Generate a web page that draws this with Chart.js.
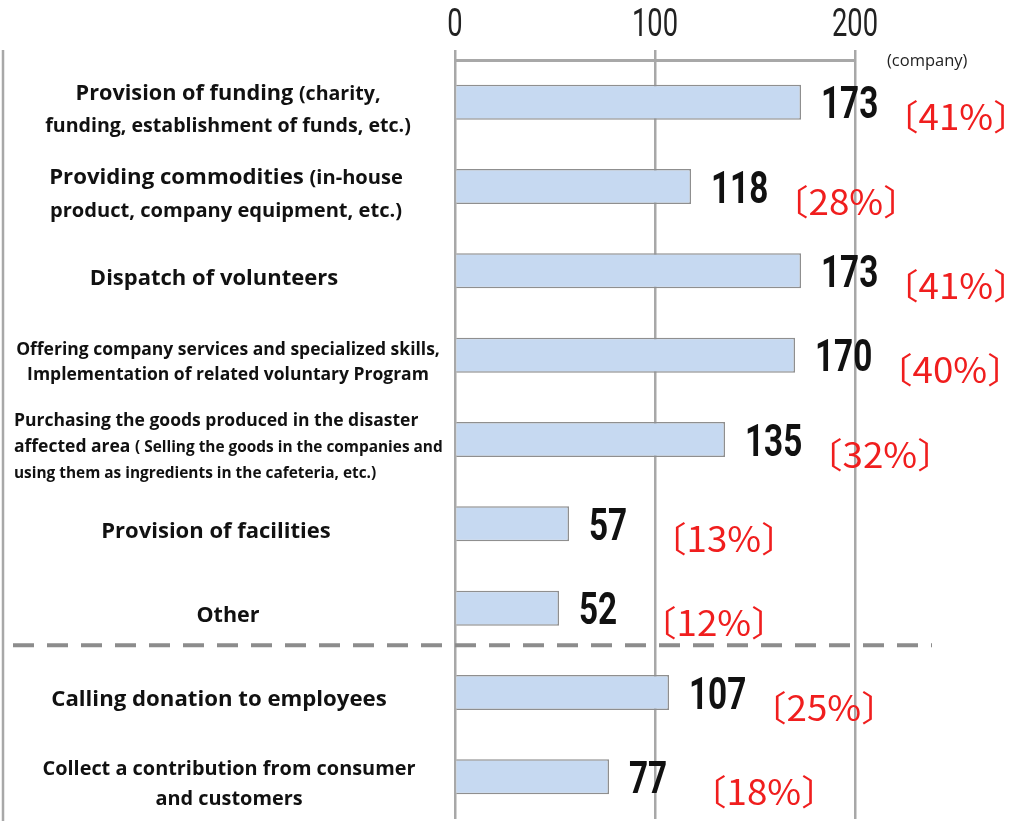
<!DOCTYPE html>
<html>
<head>
<meta charset="utf-8">
<script src="https://cdn.jsdelivr.net/npm/chart.js@4.4.1/dist/chart.umd.min.js"></script>
<style>
  html, body { margin: 0; padding: 0; background: #fff; }
  #wrap { width: 1015px; height: 821px; }
</style>
</head>
<body>
<div id="wrap"><canvas id="chart" width="1015" height="821"></canvas></div>
<script>
// categories, top to bottom ("\n" = line break, text in parentheses is set smaller)
const categories = [
    'Provision of funding (charity,\nfunding, establishment of funds, etc.)',
    'Providing commodities (in-house\nproduct, company equipment, etc.)',
    'Dispatch of volunteers',
    'Offering company services and specialized skills,\nImplementation of related voluntary Program',
    'Purchasing the goods produced in the disaster\naffected area ( Selling the goods in the companies and\nusing them as ingredients in the cafeteria, etc.)',
    'Provision of facilities',
    'Other',
    'Calling donation to employees',
    'Collect a contribution from consumer\nand customers'
];

// number of companies
const companies = [173, 118, 173, 170, 135, 57, 52, 107, 77];

// share of companies, in percent
const shares = [41, 28, 41, 40, 32, 13, 12, 25, 18];

const xTicks = [0, 100, 200];
const unitLabel = '(company)';

// the dashed separator goes after this category
const separatorAfter = 'Other';

// font sizes and alignment of the category labels (main text / text in parentheses)
const labelStyles = [
    {size: 21.7, small: 19.6, align: 'center', cx: 228},
    {size: 22.2, small: 20.1, align: 'center', cx: 226},
    {size: 22, small: 20, align: 'center', cx: 214},
    {size: 17.5, small: 17.5, align: 'center', cx: 228},
    {size: 17.5, small: 15.4, align: 'left', cx: 14},
    {size: 22, small: 20, align: 'center', cx: 216},
    {size: 21.5, small: 20, align: 'center', cx: 228},
    {size: 22.2, small: 20, align: 'center', cx: 219},
    {size: 19.9, small: 19.9, align: 'center', cx: 229}
];

const GRID = '#a8a8a8';
const LABEL_FONT = '"Open Sans"';

// draw a text squeezed horizontally (the original uses a condensed face)
function drawCondensed(ctx, text, x, y, align, font, sx, color) {
    ctx.save();
    ctx.font = font;
    ctx.fillStyle = color;
    ctx.textAlign = 'left';
    ctx.textBaseline = 'alphabetic';
    const w = ctx.measureText(text).width * sx;
    let left = x;
    if (align === 'center') left = x - w / 2;
    else if (align === 'right') left = x - w;
    ctx.translate(left, y);
    ctx.scale(sx, 1);
    ctx.fillText(text, 0, 0);
    ctx.restore();
    return w;
}

// split a line in normal / parenthesised segments
function splitSegments(line, inParen) {
    const segs = [];
    let cur = '';
    let paren = inParen;
    for (const ch of line) {
        if (ch === '(' && !paren) {
            if (cur) segs.push({text: cur, small: false});
            cur = ch;
            paren = true;
        } else if (ch === ')' && paren) {
            cur += ch;
            segs.push({text: cur, small: true});
            cur = '';
            paren = false;
        } else {
            cur += ch;
        }
    }
    if (cur) segs.push({text: cur, small: paren});
    return {segs, inParen: paren};
}

function drawCategoryLabel(ctx, text, style, cy) {
    const lines = text.split('\n');
    const lh = style.size * 1.48;
    let inParen = false;
    lines.forEach((line, i) => {
        const res = splitSegments(line, inParen);
        inParen = res.inParen;
        const fonts = res.segs.map(s => `bold ${s.small ? style.small : style.size}px ${LABEL_FONT}`);
        let total = 0;
        const widths = res.segs.map((s, k) => {
            ctx.font = fonts[k];
            const w = ctx.measureText(s.text).width;
            total += w;
            return w;
        });
        let x = style.align === 'left' ? style.cx : style.cx - total / 2;
        const lineY = cy - (lines.length - 1) * lh / 2 + i * lh + style.size * 0.36;
        res.segs.forEach((s, k) => {
            ctx.font = fonts[k];
            ctx.fillText(s.text, x, lineY);
            x += widths[k];
        });
    });
}

const annotate = {
    id: 'annotate',
    afterDraw(chart) {
        const {ctx, chartArea} = chart;
        const xs = chart.scales.x;
        const ys = chart.scales.y;
        const meta = chart.getDatasetMeta(0);

        // tick labels of the top axis
        xs.ticks.forEach(t => {
            drawCondensed(ctx, String(t.value), xs.getPixelForValue(t.value), 36,
                'center', '400 39px Roboto', 0.7, '#222');
        });

        // unit
        ctx.save();
        ctx.font = `16.5px ${LABEL_FONT}`;
        ctx.fillStyle = '#222';
        ctx.textBaseline = 'middle';
        ctx.fillText(unitLabel, xs.right + 32, chartArea.top + 1);
        ctx.restore();

        // left frame line (edge of the neighbouring panel)
        ctx.save();
        ctx.strokeStyle = GRID;
        ctx.lineWidth = 2.5;
        ctx.beginPath();
        ctx.moveTo(3, chartArea.top - 10);
        ctx.lineTo(3, chart.height);
        ctx.stroke();
        ctx.restore();

        // category labels
        ctx.save();
        ctx.fillStyle = '#111';
        ctx.textBaseline = 'alphabetic';
        categories.forEach((c, i) => {
            drawCategoryLabel(ctx, c, labelStyles[i], ys.getPixelForValue(i) + 6);
        });
        ctx.restore();

        // values and shares
        const pctFont = '400 35px "Noto Sans CJK JP"';
        const pctScale = 1.05;
        meta.data.forEach((bar, i) => {
            drawCondensed(ctx, String(companies[i]), bar.x + 20, bar.y + 16,
                'left', 'bold 45px Roboto', 0.74, '#111');

            const txt = '\u3014' + shares[i] + '%\u3015';
            ctx.save();
            ctx.font = pctFont;
            const m = ctx.measureText(txt);
            ctx.restore();
            const inkLeft = bar.x + 106;
            drawCondensed(ctx, txt, inkLeft + m.actualBoundingBoxLeft * pctScale, bar.y + 28,
                'left', pctFont, pctScale, '#f01e1e');
        });

        // dashed separator
        const idx = categories.indexOf(separatorAfter);
        const sepY = (ys.getPixelForValue(idx) + ys.getPixelForValue(idx + 1)) / 2 - 5;
        ctx.save();
        ctx.strokeStyle = '#8c8c8c';
        ctx.lineWidth = 4;
        ctx.setLineDash([21, 13]);
        ctx.beginPath();
        ctx.moveTo(13, sepY);
        ctx.lineTo(932, sepY);
        ctx.stroke();
        ctx.restore();
    }
};

new Chart(document.getElementById('chart'), {
    type: 'bar',
    data: {
        labels: categories,
        datasets: [{
            data: companies,
            backgroundColor: '#c6d9f1',
            borderColor: '#8f8f8f',
            borderWidth: 1.5,
            barPercentage: 0.415,
            categoryPercentage: 1
        }]
    },
    options: {
        indexAxis: 'y',
        responsive: false,
        animation: false,
        devicePixelRatio: 1,
        layout: {padding: {left: 455, right: 160, top: 0, bottom: 2}},
        plugins: {
            legend: {display: false},
            tooltip: {enabled: false}
        },
        scales: {
            x: {
                position: 'top',
                min: 0,
                max: 200,
                afterBuildTicks: s => { s.ticks = xTicks.map(v => ({value: v})); },
                afterFit: s => { s.height = 60; },
                ticks: {display: false},
                grid: {color: GRID, lineWidth: 2.5, tickLength: 10, drawTicks: true},
                border: {display: true, color: GRID, width: 3}
            },
            y: {display: false}
        }
    },
    plugins: [annotate]
});
</script>
</body>
</html>
